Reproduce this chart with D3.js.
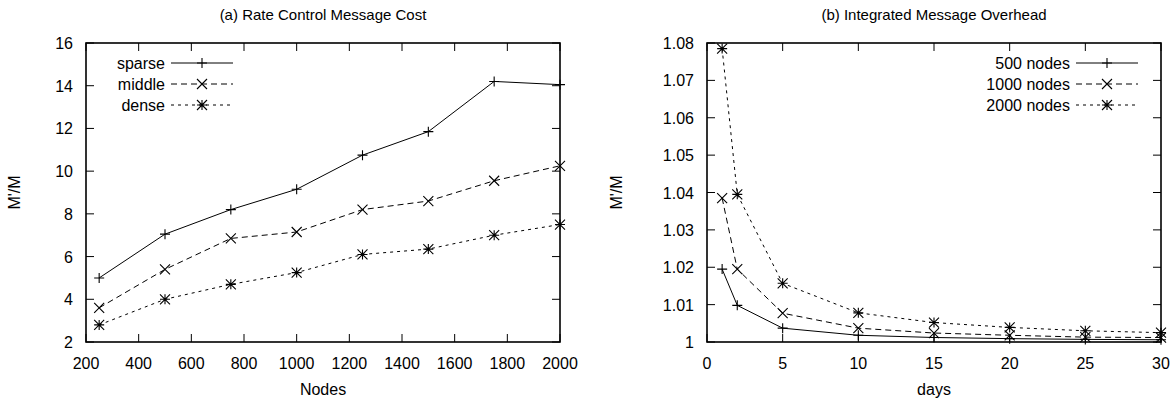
<!DOCTYPE html>
<html>
<head>
<meta charset="utf-8">
<script src="https://cdn.jsdelivr.net/npm/d3@7"></script>
<style>
  body { margin: 0; background: #fff; }
  svg { display: block; font-family: "Liberation Sans", Arial, sans-serif; }
</style>
</head>
<body>
<svg id="chart" width="1176" height="406"></svg>
<script>
// ---- data: (a) Rate Control Message Cost ----
const nodes = [250, 500, 750, 1000, 1250, 1500, 1750, 2000];
const sparse = [5.0, 7.05, 8.2, 9.15, 10.75, 11.85, 14.2, 14.05];
const middle = [3.6, 5.4, 6.85, 7.15, 8.2, 8.6, 9.55, 10.25];
const dense = [2.8, 4.0, 4.7, 5.25, 6.1, 6.35, 7.0, 7.5];
const nodeTicks = [200, 400, 600, 800, 1000, 1200, 1400, 1600, 1800, 2000];
const costTicks = [2, 4, 6, 8, 10, 12, 14, 16];

// ---- data: (b) Integrated Message Overhead ----
const days = [1, 2, 5, 10, 15, 20, 25, 30];
const n500 = [1.0195, 1.0098, 1.0037, 1.0018, 1.0012, 1.0009, 1.0007, 1.0006];
const n1000 = [1.0385, 1.0195, 1.0077, 1.0037, 1.0024, 1.0018, 1.0013, 1.0012];
const n2000 = [1.0785, 1.0395, 1.0157, 1.0078, 1.0052, 1.0039, 1.0030, 1.0025];
const dayTicks = [0, 5, 10, 15, 20, 25, 30];
const overheadTicks = [1, 1.01, 1.02, 1.03, 1.04, 1.05, 1.06, 1.07, 1.08];

const svg = d3.select("#chart");
const tickLen = 8;

// marker shapes like gnuplot point types 1,2,3
function drawMarker(g, type, x, y) {
  const s = 5;
  const p = g.append("path")
    .attr("fill", "none")
    .attr("stroke", "#000")
    .attr("stroke-width", 1.1);
  let d = "";
  if (type === "plus" || type === "star")
    d += `M${x - s},${y}H${x + s}M${x},${y - s}V${y + s}`;
  if (type === "cross" || type === "star")
    d += `M${x - s},${y - s}L${x + s},${y + s}M${x - s},${y + s}L${x + s},${y - s}`;
  p.attr("d", d);
}

function panel(opt) {
  const { left, right, top, bottom } = opt;
  const g = svg.append("g");

  const x = d3.scaleLinear().domain(opt.xDomain).range([left, right]);
  const y = d3.scaleLinear().domain(opt.yDomain).range([bottom, top]);

  // ticks, inward and mirrored
  const ticks = g.append("g").attr("stroke", "#000").attr("stroke-width", 1);
  opt.xTicks.forEach(t => {
    ticks.append("line").attr("x1", x(t)).attr("x2", x(t)).attr("y1", bottom).attr("y2", bottom - tickLen);
    ticks.append("line").attr("x1", x(t)).attr("x2", x(t)).attr("y1", top).attr("y2", top + tickLen);
  });
  opt.yTicks.forEach(t => {
    ticks.append("line").attr("x1", left).attr("x2", left + tickLen).attr("y1", y(t)).attr("y2", y(t));
    ticks.append("line").attr("x1", right).attr("x2", right - tickLen).attr("y1", y(t)).attr("y2", y(t));
  });

  // tick labels
  g.selectAll(".xl").data(opt.xTicks).enter().append("text")
    .attr("x", d => x(d)).attr("y", bottom + 27)
    .attr("text-anchor", "middle").attr("font-size", 16)
    .text(d => d);
  g.selectAll(".yl").data(opt.yTicks).enter().append("text")
    .attr("x", left - 13).attr("y", d => y(d) + 6)
    .attr("text-anchor", "end").attr("font-size", 16)
    .text(opt.yFormat);

  // axis titles
  g.append("text").attr("x", (left + right) / 2).attr("y", bottom + 53)
    .attr("text-anchor", "middle").attr("font-size", 16).text(opt.xLabel);
  g.append("text")
    .attr("transform", `translate(${opt.yLabelX},${(top + bottom) / 2}) rotate(-90)`)
    .attr("text-anchor", "middle").attr("font-size", 16).text("M'/M");
  g.append("text").attr("x", (left + right) / 2).attr("y", 20)
    .attr("text-anchor", "middle").attr("font-size", 15).text(opt.title);

  // series
  opt.series.forEach((s, i) => {
    const line = d3.line().x((d, j) => x(opt.xs[j])).y(d => y(d));
    g.append("path").datum(s.values)
      .attr("d", line)
      .attr("fill", "none")
      .attr("stroke", "#000")
      .attr("stroke-width", 1)
      .attr("stroke-dasharray", s.dash);
    s.values.forEach((v, j) => drawMarker(g, s.marker, x(opt.xs[j]), y(v)));

    // legend entry
    const ly = opt.legendY + i * 21;
    g.append("text").attr("x", opt.legendX).attr("y", ly + 6)
      .attr("text-anchor", "end").attr("font-size", 16).text(s.name);
    g.append("line")
      .attr("x1", opt.legendX + 6).attr("x2", opt.legendX + 68)
      .attr("y1", ly).attr("y2", ly)
      .attr("stroke", "#000").attr("stroke-width", 1)
      .attr("stroke-dasharray", s.dash);
    drawMarker(g, s.marker, opt.legendX + 37, ly);
  });

  // frame
  g.append("rect")
    .attr("x", left).attr("y", top)
    .attr("width", right - left).attr("height", bottom - top)
    .attr("fill", "none").attr("stroke", "#000").attr("stroke-width", 1.6);
}

panel({
  left: 86, right: 560, top: 43, bottom: 342,
  xDomain: [200, 2000], yDomain: [2, 16],
  xTicks: nodeTicks, yTicks: costTicks,
  yFormat: d => d,
  xLabel: "Nodes", yLabelX: 20,
  title: "(a) Rate Control Message Cost",
  xs: nodes,
  legendX: 165, legendY: 63,
  series: [
    { name: "sparse", values: sparse, marker: "plus", dash: null },
    { name: "middle", values: middle, marker: "cross", dash: "6,4" },
    { name: "dense", values: dense, marker: "star", dash: "3,4" }
  ]
});

panel({
  left: 707, right: 1161, top: 43, bottom: 342,
  xDomain: [0, 30], yDomain: [1, 1.08],
  xTicks: dayTicks, yTicks: overheadTicks,
  yFormat: d => d === 1 ? "1" : d3.format(".2f")(d),
  xLabel: "days", yLabelX: 622,
  title: "(b) Integrated Message Overhead",
  xs: days,
  legendX: 1070, legendY: 63,
  series: [
    { name: "500 nodes", values: n500, marker: "plus", dash: null },
    { name: "1000 nodes", values: n1000, marker: "cross", dash: "6,4" },
    { name: "2000 nodes", values: n2000, marker: "star", dash: "3,4" }
  ]
});
</script>
</body>
</html>
